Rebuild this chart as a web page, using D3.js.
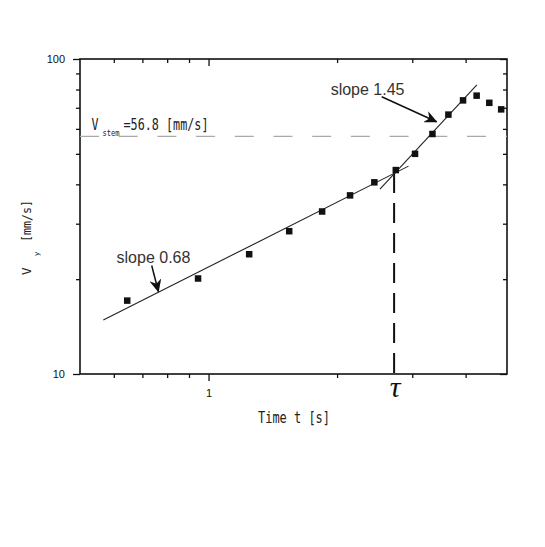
<!DOCTYPE html>
<html>
<head>
<meta charset="utf-8">
<script src="https://cdnjs.cloudflare.com/ajax/libs/d3/7.8.5/d3.min.js"></script>
<style>
  body { margin: 0; background: #fff; }
  .tick text { font-family: "Liberation Sans", Arial, sans-serif; font-size: 11px; fill: #111; }
</style>
</head>
<body>
<script>
// Measured vertical velocity vs time
var timeValues = [0.645, 0.945, 1.245, 1.545, 1.845, 2.145, 2.445, 2.745, 3.045, 3.345, 3.645, 3.945, 4.245, 4.545, 4.845];
var vyValues = [17.1, 20.1, 24.0, 28.4, 32.8, 36.9, 40.6, 44.4, 50.0, 57.8, 66.6, 73.9, 76.5, 72.6, 69.2];

// Power law fits (end points of each fitted segment)
var fitLowT = [0.567, 2.94];
var fitLowV = [14.84, 45.7];
var fitHighT = [2.52, 4.25];
var fitHighV = [38.6, 82.7];

// reference levels
var vStem = 56.8;
var tauT = 2.72;
var tauV = [10, 43.5];

// tick values
var xMajorTicks = [1];
var xMinorTicks = [0.6, 0.7, 0.8, 0.9, 2, 3, 4];
var yMajorTicks = [10, 100];
var yMinorTicks = [20, 30, 40, 50, 60, 70, 80, 90];

var slopeLabels = ["slope 0.68", "slope 1.45"];

var svgWidth = 545;
var svgHeight = 547;

var chartMargin = { top: 59, right: 38, bottom: 173, left: 80 };

var chartWidth = svgWidth - chartMargin.left - chartMargin.right;
var chartHeight = svgHeight - chartMargin.top - chartMargin.bottom;

var svg = d3.select("body")
  .append("svg")
  .attr("width", svgWidth)
  .attr("height", svgHeight)
  .style("background", "#fff");

var chartGroup = svg.append("g")
  .attr("transform", `translate(${chartMargin.left}, ${chartMargin.top})`);

// log scales on both axes
var xScale = d3.scaleLog()
  .domain([0.5, 5])
  .range([0, chartWidth]);

var yScale = d3.scaleLog()
  .domain([10, 100])
  .range([chartHeight, 0]);

// arrow head
svg.append("defs").append("marker")
  .attr("id", "head")
  .attr("viewBox", "0 0 13 12")
  .attr("refX", 12)
  .attr("refY", 6)
  .attr("markerWidth", 13)
  .attr("markerHeight", 12)
  .attr("markerUnits", "userSpaceOnUse")
  .attr("orient", "auto")
  .append("path")
  .attr("d", "M0,0 L13,6 L0,12 L4,6 Z")
  .attr("fill", "#111");

// axes: bottom / left ticks outside, top / right ticks inside
function styleAxis(g) {
  g.select(".domain").remove();
  g.selectAll(".tick line").attr("stroke", "#111").attr("stroke-width", 1.3);
}

chartGroup.append("g")
  .attr("transform", `translate(0,${chartHeight})`)
  .call(d3.axisBottom(xScale).tickValues(xMajorTicks).tickFormat(d3.format("d")).tickSize(7).tickPadding(8))
  .call(styleAxis);
chartGroup.append("g")
  .attr("transform", `translate(0,${chartHeight})`)
  .call(d3.axisBottom(xScale).tickValues(xMinorTicks).tickFormat("").tickSize(4))
  .call(styleAxis);
chartGroup.append("g")
  .call(d3.axisTop(xScale).tickValues(xMajorTicks).tickFormat("").tickSize(-7))
  .call(styleAxis);
chartGroup.append("g")
  .call(d3.axisTop(xScale).tickValues(xMinorTicks).tickFormat("").tickSize(-4))
  .call(styleAxis);

chartGroup.append("g")
  .call(d3.axisLeft(yScale).tickValues(yMajorTicks).tickFormat(d3.format("d")).tickSize(7).tickPadding(8))
  .call(styleAxis);
chartGroup.append("g")
  .call(d3.axisLeft(yScale).tickValues(yMinorTicks).tickFormat("").tickSize(4))
  .call(styleAxis);
chartGroup.append("g")
  .attr("transform", `translate(${chartWidth},0)`)
  .call(d3.axisRight(yScale).tickValues(yMajorTicks).tickFormat("").tickSize(-7))
  .call(styleAxis);
chartGroup.append("g")
  .attr("transform", `translate(${chartWidth},0)`)
  .call(d3.axisRight(yScale).tickValues(yMinorTicks).tickFormat("").tickSize(-4))
  .call(styleAxis);

// frame
chartGroup.append("rect")
  .attr("width", chartWidth)
  .attr("height", chartHeight)
  .attr("fill", "none")
  .attr("stroke", "#111")
  .attr("stroke-width", 1.6);

// V_stem level
chartGroup.append("line")
  .attr("x1", xScale(0.5))
  .attr("x2", xScale(5))
  .attr("y1", yScale(vStem))
  .attr("y2", yScale(vStem))
  .attr("stroke", "#aaa")
  .attr("stroke-width", 1.4)
  .attr("stroke-dasharray", "19,19.7");

// tau marker
chartGroup.append("line")
  .attr("x1", xScale(tauT))
  .attr("x2", xScale(tauT))
  .attr("y1", yScale(tauV[1]))
  .attr("y2", yScale(tauV[0]))
  .attr("stroke", "#111")
  .attr("stroke-width", 2)
  .attr("stroke-dasharray", "20,10");

// fitted lines
var line = d3.line()
  .x(d => xScale(d[0]))
  .y(d => yScale(d[1]));

[[fitLowT, fitLowV], [fitHighT, fitHighV]].forEach(function(f) {
  chartGroup.append("path")
    .datum(f[0].map((t, i) => [t, f[1][i]]))
    .attr("d", line)
    .attr("fill", "none")
    .attr("stroke", "#222")
    .attr("stroke-width", 1.1);
});

// data squares
var sq = 6.5;
chartGroup.selectAll(".pt")
  .data(timeValues)
  .enter()
  .append("rect")
  .attr("class", "pt")
  .attr("x", d => xScale(d) - sq / 2)
  .attr("y", (d, i) => yScale(vyValues[i]) - sq / 2)
  .attr("width", sq)
  .attr("height", sq)
  .attr("fill", "#111");

// slope annotations (anchor points in data units)
var notes = [
  { text: slopeLabels[0], tx: 0.609, tv: 22.5, from: [0.736, 22.1], to: [0.763, 18.27] },
  { text: slopeLabels[1], tx: 1.932, tv: 76.9, from: [2.544, 75.9], to: [3.42, 63.2] }
];

notes.forEach(function(n) {
  chartGroup.append("text")
    .attr("x", xScale(n.tx))
    .attr("y", yScale(n.tv))
    .attr("font-family", "Liberation Sans, Arial, sans-serif")
    .attr("font-size", "16px")
    .attr("fill", "#333")
    .text(n.text);
  chartGroup.append("line")
    .attr("x1", xScale(n.from[0]))
    .attr("y1", yScale(n.from[1]))
    .attr("x2", xScale(n.to[0]))
    .attr("y2", yScale(n.to[1]))
    .attr("stroke", "#111")
    .attr("stroke-width", 1.5)
    .attr("marker-end", "url(#head)");
});

var mono = "DejaVu Sans Mono, monospace";

// V_stem label
var stemY = yScale(vStem);
chartGroup.append("text")
  .attr("x", 11.5).attr("y", stemY - 6.5)
  .attr("font-family", mono).attr("font-size", "15px")
  .attr("textLength", 7).attr("lengthAdjust", "spacingAndGlyphs")
  .attr("fill", "#222")
  .text("V");
chartGroup.append("text")
  .attr("x", 22.5).attr("y", stemY - 0.5)
  .attr("font-family", mono).attr("font-size", "8px")
  .attr("textLength", 17).attr("lengthAdjust", "spacingAndGlyphs")
  .attr("fill", "#222")
  .text("stem");
chartGroup.append("text")
  .attr("x", 43.5).attr("y", stemY - 6.5)
  .attr("font-family", mono).attr("font-size", "15px")
  .attr("textLength", 85).attr("lengthAdjust", "spacingAndGlyphs")
  .attr("fill", "#222")
  .text("=56.8 [mm/s]");

// tau label
chartGroup.append("text")
  .attr("x", xScale(tauT) + 1)
  .attr("y", chartHeight + 23)
  .attr("text-anchor", "middle")
  .attr("font-family", "Liberation Serif, serif")
  .attr("font-style", "italic")
  .attr("font-size", "30px")
  .attr("fill", "#111")
  .text("τ");

// x axis title
chartGroup.append("text")
  .attr("x", chartWidth / 2 + 0.5)
  .attr("y", chartHeight + 49)
  .attr("text-anchor", "middle")
  .attr("font-family", mono)
  .attr("font-size", "15px")
  .attr("textLength", 72).attr("lengthAdjust", "spacingAndGlyphs")
  .attr("fill", "#222")
  .text("Time t [s]");

// y axis title (rotated)
var yTitle = svg.append("g")
  .attr("transform", "translate(31,275) rotate(-90)");
yTitle.append("text")
  .attr("x", 0).attr("y", 0)
  .attr("font-family", mono).attr("font-size", "12.5px")
  .attr("textLength", 7.5).attr("lengthAdjust", "spacingAndGlyphs")
  .attr("fill", "#222")
  .text("V");
yTitle.append("text")
  .attr("x", 19).attr("y", 8)
  .attr("font-family", mono).attr("font-size", "7px")
  .attr("fill", "#222")
  .text("y");
yTitle.append("text")
  .attr("x", 33).attr("y", 0)
  .attr("font-family", mono).attr("font-size", "12.5px")
  .attr("textLength", 42).attr("lengthAdjust", "spacingAndGlyphs")
  .attr("fill", "#222")
  .text("[mm/s]");
</script>
</body>
</html>
